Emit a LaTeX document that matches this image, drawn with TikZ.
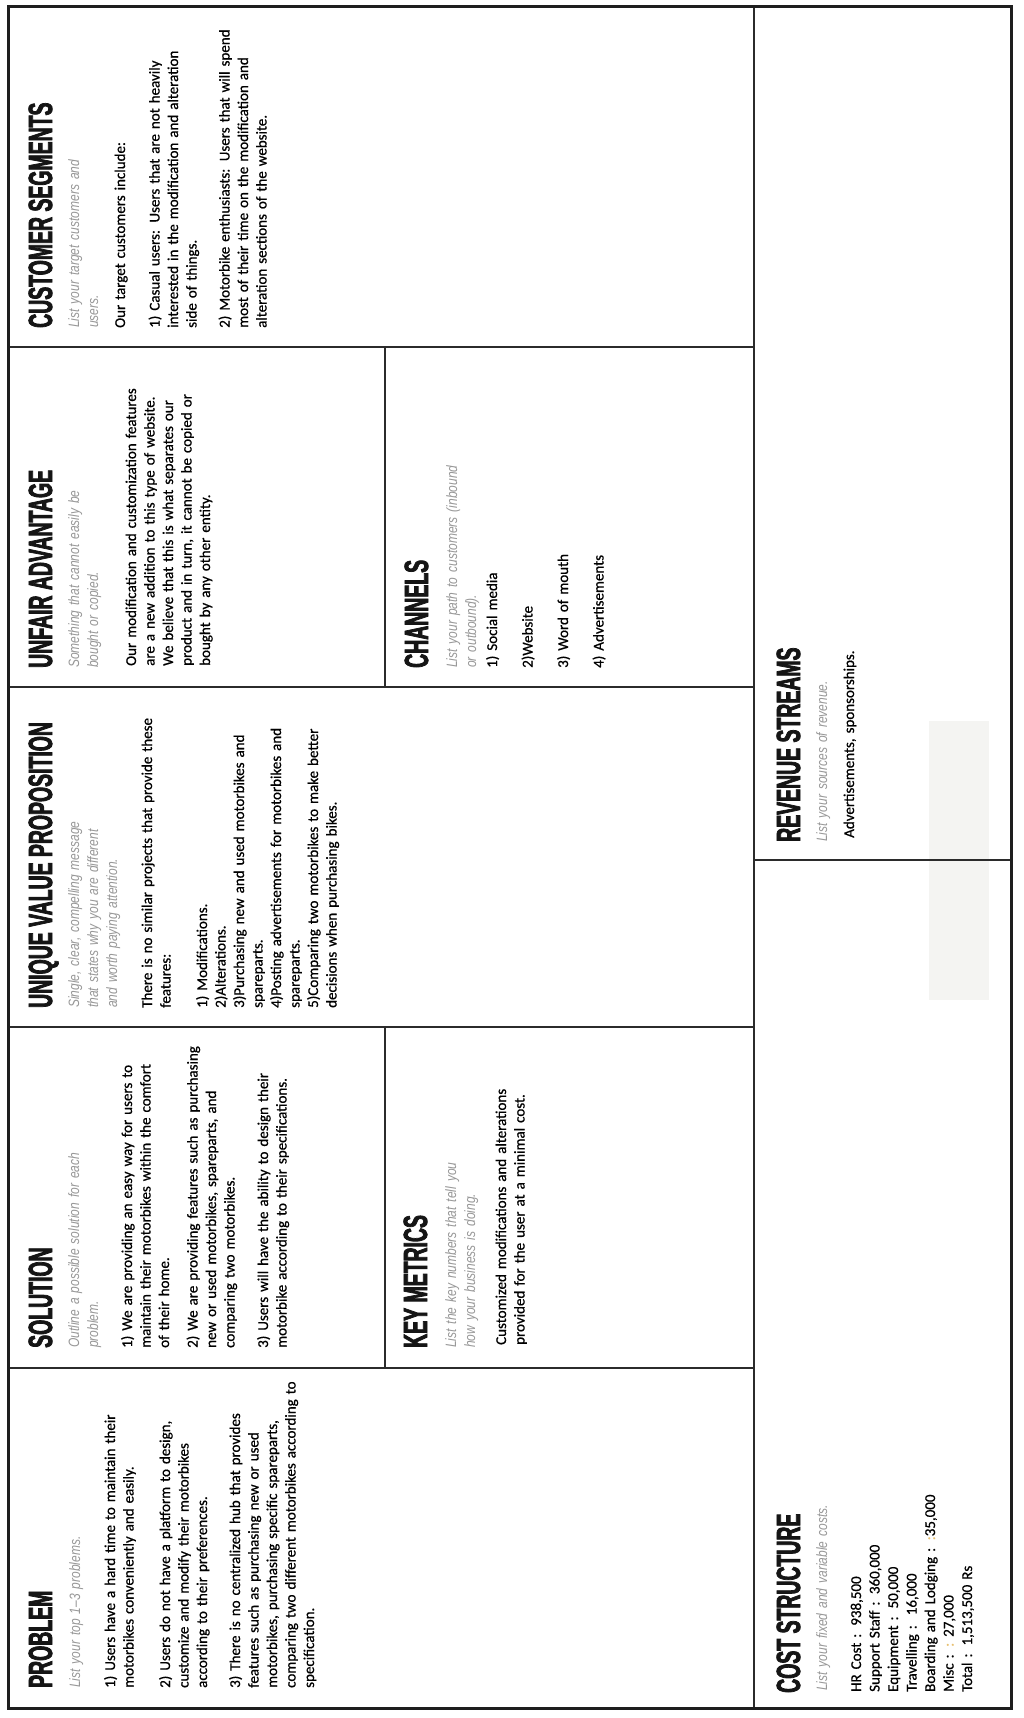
\documentclass[tikz,border=0pt]{standalone}
\usepackage{fontspec}
\setmainfont{Carlito}
\newfontfamily\titlefont[FakeStretch=0.58,FakeBold=2.2]{Liberation Sans}
\newfontfamily\subfont[FakeStretch=0.8]{Liberation Sans}
\newfontfamily\bodyfont[FakeBold=0.7]{Carlito}
\definecolor{titlecol}{HTML}{151515}
\definecolor{subcol}{HTML}{989898}
\definecolor{linecol}{HTML}{2B2B2B}
\definecolor{framecol}{HTML}{1E1E1E}
\definecolor{shadebox}{HTML}{F4F4F2}
\definecolor{faintcol}{HTML}{E8C070}
\tikzset{
  ttltxt/.style={rotate=90, anchor=base west, inner sep=0pt, text=titlecol,
    font=\titlefont\bfseries\fontsize{33.5}{33.5}\selectfont},
  subtxt/.style={rotate=90, anchor=base west, inner sep=0pt, text width=400pt, align=left,
    text=subcol, font=\subfont\itshape\fontsize{15}{19}\selectfont},
  bodytxt/.style={rotate=90, anchor=base west, inner sep=0pt, text width=400pt, align=left,
    text=black, font=\bodyfont\fontsize{15}{18.5}\selectfont},
  gridline/.style={line width=2pt, draw=linecol},
  frameline/.style={line width=3pt, draw=framecol},
}
\begin{document}
\begin{tikzpicture}[x=1pt,y=-1pt]
\useasboundingbox (0,0) rectangle (1024,1718);
\fill[white] (0,0) rectangle (1024,1718);
% shaded patch in the revenue column
\fill[shadebox] (929,721) rectangle (989,1000);
% grid
\draw[gridline] (8,347) -- (754,347);
\draw[gridline] (8,687) -- (754,687);
\draw[gridline] (8,1027) -- (754,1027);
\draw[gridline] (8,1368) -- (754,1368);
\draw[gridline] (385,347) -- (385,687);
\draw[gridline] (385,1027) -- (385,1368);
\draw[gridline] (754,7) -- (754,1708);
\draw[gridline] (754,860) -- (1011,860);
\draw[frameline] (8,7) rectangle (1011,1708);

% ---------- CUSTOMER SEGMENTS
\node[ttltxt] (csT) at (52,328) {CUSTOMER SEGMENTS};
\node[subtxt] (csS) at (79,328) {List your target customers and\\users.};
\node[bodytxt] (csB) at (125,328) {Our target customers include:\\[16pt]
1) Casual users: Users that are not heavily\\
interested in the modification and alteration\\
side of things.\\[14.5pt]
2) Motorbike enthusiasts: Users that will spend\\
most of their time on the modification and\\
alteration sections of the website.};

% ---------- UNFAIR ADVANTAGE
\node[ttltxt] (uaT) at (52,668) {UNFAIR ADVANTAGE};
\node[subtxt] (uaS) at (79,668) {Something that cannot easily be\\bought or copied.};
\node[bodytxt] (uaB) at (136,666) {Our modification and customization features\\
are a new addition to this type of website.\\
We believe that this is what separates our\\
product and in turn, it cannot be copied or\\
bought by any other entity.};

% ---------- CHANNELS
\node[ttltxt] (chT) at (428,668) {CHANNELS};
\node[subtxt] (chS) at (457,668) {List your path to customers (inbound\\or outbound).};
\node[bodytxt] (chB) at (497,668) {1) Social media\\[17pt]
2)Website\\[17pt]
3) Word of mouth\\[17pt]
4) Advertisements};

% ---------- UNIQUE VALUE PROPOSITION
\node[ttltxt] (uvT) at (52,1008) {UNIQUE VALUE PROPOSITION};
\node[subtxt] (uvS) at (79,1008) {Single, clear, compelling message\\that states why you are different\\and worth paying attention.};
\node[bodytxt] (uvB) at (152,1008) {There is no similar projects that provide these\\
features:\\[18pt]
1) Modifications.\\
2)Alterations.\\
3)Purchasing new and used motorbikes and\\
spareparts.\\
4)Posting advertisements for motorbikes and\\
spareparts.\\
5)Comparing two motorbikes to make better\\
decisions when purchasing bikes.};

% ---------- SOLUTION
\node[ttltxt] (soT) at (52,1348) {SOLUTION};
\node[subtxt] (soS) at (79,1348) {Outline a possible solution for each\\problem.};
\node[bodytxt] (soB) at (132,1348) {1) We are providing an easy way for users to\\
maintain their motorbikes within the comfort\\
of their home.\\[10pt]
2) We are providing features such as purchasing\\
new or used motorbikes, spareparts, and\\
comparing two motorbikes.\\[15pt]
3) Users will have the ability to design their\\
motorbike according to their specifications.};

% ---------- KEY METRICS
\node[ttltxt] (kmT) at (427,1348) {KEY METRICS};
\node[subtxt] (kmS) at (456,1348) {List the key numbers that tell you\\how your business is doing.};
\node[bodytxt] (kmB) at (506,1345) {Customized modifications and alterations\\
provided for the user at a minimal cost.};

% ---------- PROBLEM
\node[ttltxt] (prT) at (52,1688) {PROBLEM};
\node[subtxt] (prS) at (80,1688) {List your top 1–3 problems.};
\node[bodytxt] (prB) at (115,1688) {1) Users have a hard time to maintain their\\
motorbikes conveniently and easily.\\[18pt]
2) Users do not have a platform to design,\\
customize and modify their motorbikes\\
according to their preferences.\\[14.5pt]
3) There is no centralized hub that provides\\
features such as purchasing new or used\\
motorbikes, purchasing specific spareparts,\\
comparing two different motorbikes according to\\
specification.};

% ---------- REVENUE STREAMS
\node[ttltxt] (rvT) at (800,842) {REVENUE STREAMS};
\node[subtxt] (rvS) at (827,842) {List your sources of revenue.};
\node[bodytxt] (rvB) at (854,838) {Advertisements, sponsorships.};

% ---------- COST STRUCTURE
\node[ttltxt] (cdT) at (800,1693) {COST STRUCTURE};
\node[subtxt] (cdS) at (827,1691) {List your fixed and variable costs.};
\node[bodytxt] (cdB) at (861,1692) {HR Cost :\hspace{8pt}938,500\\
Support Staff : 360,000\\
Equipment :\hspace{8pt}50,000\\
Travelling :\hspace{10pt}16,000\\
Boarding and Lodging : {\color{faintcol}:}35,000\\
Misc : {\color{faintcol}:}\hspace{6pt}27,000\\
Total :\hspace{8pt}1,513,500 Rs};
\end{tikzpicture}
\end{document}
